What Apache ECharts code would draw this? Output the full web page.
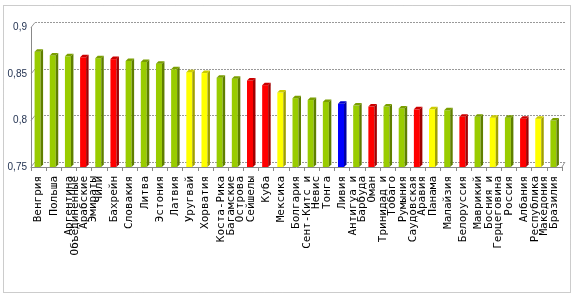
<!DOCTYPE html>
<html>
<head>
<meta charset="utf-8">
<script src="https://cdn.jsdelivr.net/npm/echarts@6/dist/echarts.min.js"></script>
<style>html,body{margin:0;padding:0;background:#fff}#c{width:576px;height:300px}</style>
</head>
<body>
<div id="c"></div>
<script>
const categories = [
  'Венгрия','Польша','Аргентина','Объединенные\nАрабские\nЭмираты','Чили','Бахрейн','Словакия','Литва','Эстония','Латвия',
  'Уругвай','Хорватия','Коста-Рика','Багамские\nОстрова','Сейшелы','Куба','Мексика','Болгария','Сент-Китс и\nНевис','Тонга',
  'Ливия','Антигуа и\nБарбуда','Оман','Тринидад и\nТобаго','Румыния','Саудовская\nАравия','Панама','Малайзия','Белоруссия','Маврикий',
  'Босния и\nГерцеговина','Россия','Албания','Республика\nМакедония','Бразилия'
];
const values = [
  0.874,0.870,0.869,0.868,0.867,0.866,0.864,0.863,0.861,0.855,
  0.852,0.851,0.846,0.845,0.843,0.838,0.830,0.824,0.822,0.820,
  0.818,0.816,0.815,0.815,0.813,0.812,0.812,0.811,0.804,0.804,
  0.803,0.803,0.802,0.802,0.800
];
const groups = [
  'g','g','g','r','g','r','g','g','g','g',
  'y','y','g','g','r','r','y','g','g','g',
  'b','g','r','g','g','r','y','g','r','g',
  'y','g','r','y','g'
];
const yTicks = [0.75, 0.8, 0.85, 0.9];

const palette = {
  g: {front:'#99cc00', side:'#5f7f00', top:'#7a9f00'},
  r: {front:'#ff0000', side:'#a00000', top:'#cc0000'},
  y: {front:'#ffff00', side:'#a0a000', top:'#cccc00'},
  b: {front:'#0000ff', side:'#0000a0', top:'#0000cc'}
};

const chart = echarts.init(document.getElementById('c'), null, {renderer:'canvas'});
const FRONT = {left:31, top:27.5, width:531, height:139.5};
const BACK = {left:35, top:22.5, width:530, height:139.5};

chart.setOption({
  backgroundColor:'#fff',
  animation:false,
  grid:[
    {left:FRONT.left, top:FRONT.top, width:FRONT.width, height:FRONT.height},
    {left:BACK.left, top:BACK.top, width:BACK.width, height:BACK.height}
  ],
  xAxis:[
    {type:'category', gridIndex:0, data:categories,
     axisLine:{show:true, lineStyle:{color:'#888'}},
     axisTick:{show:true, length:4, lineStyle:{color:'#888'}},
     axisLabel:{interval:0, rotate:90, margin:9, fontFamily:'DejaVu Sans Mono', fontSize:11, lineHeight:9, color:'#000'}},
    {type:'category', gridIndex:1, data:categories, show:false}
  ],
  yAxis:[
    {type:'value', gridIndex:0, min:0.75, max:0.9, interval:0.05,
     axisLine:{show:true, lineStyle:{color:'#888'}},
     axisTick:{show:false},
     splitLine:{show:false},
     axisLabel:{margin:4, fontFamily:'Liberation Sans Narrow, Liberation Sans', fontSize:10, color:'#1d2d4d',
       formatter:v=>String(+v.toFixed(2)).replace('.',',')}},
    {type:'value', gridIndex:1, min:0.75, max:0.9, interval:0.05,
     axisLine:{show:false}, axisTick:{show:false}, axisLabel:{show:false},
     splitLine:{show:true, lineStyle:{color:'#999', type:[2,1], width:1}}}
  ],
  series:[{
    type:'custom', xAxisIndex:0, yAxisIndex:0,
    data: values.map((v,i)=>[i, v, groups[i]]),
    renderItem:function(params, api){
      const i = api.value(0), v = api.value(1);
      const c = palette[groups[i]];
      const t = api.coord([i, v]);
      const b = api.coord([i, 0.75]);
      const w = 6, d = 2.5;
      const x0 = t[0] - w/2 - 1;
      return {type:'group', children:[
        {type:'rect', shape:{x:x0, y:t[1], width:w, height:b[1]-t[1]}, style:{fill:c.front}},
        {type:'polygon', shape:{points:[[x0+w,t[1]],[x0+w+d,t[1]-d],[x0+w+d,b[1]-d],[x0+w,b[1]]]}, style:{fill:c.side}},
        {type:'polygon', shape:{points:[[x0,t[1]],[x0+d,t[1]-d],[x0+w+d,t[1]-d],[x0+w,t[1]]]}, style:{fill:c.top}}
      ]};
    }
  }]
});

const gfx = [];
yTicks.forEach(v=>{
  const f = chart.convertToPixel({xAxisIndex:0, yAxisIndex:0}, [0, v]);
  const k = chart.convertToPixel({xAxisIndex:1, yAxisIndex:1}, [0, v]);
  gfx.push({type:'line', shape:{x1:FRONT.left, y1:f[1], x2:BACK.left, y2:k[1]}, style:{stroke:'#999', lineWidth:1}});
});
const fb = chart.convertToPixel({xAxisIndex:0, yAxisIndex:0}, [0, 0.75])[1];
const kb = chart.convertToPixel({xAxisIndex:1, yAxisIndex:1}, [0, 0.75])[1];
gfx.push({type:'line', shape:{x1:FRONT.left+FRONT.width, y1:fb, x2:BACK.left+BACK.width, y2:kb}, style:{stroke:'#999', lineWidth:1}});
gfx.push({type:'rect', shape:{x:3.5, y:5.5, width:567, height:287}, style:{fill:null, stroke:'#999', lineWidth:1, lineDash:[1,1]}});
chart.setOption({graphic:gfx});
</script>
</body>
</html>
